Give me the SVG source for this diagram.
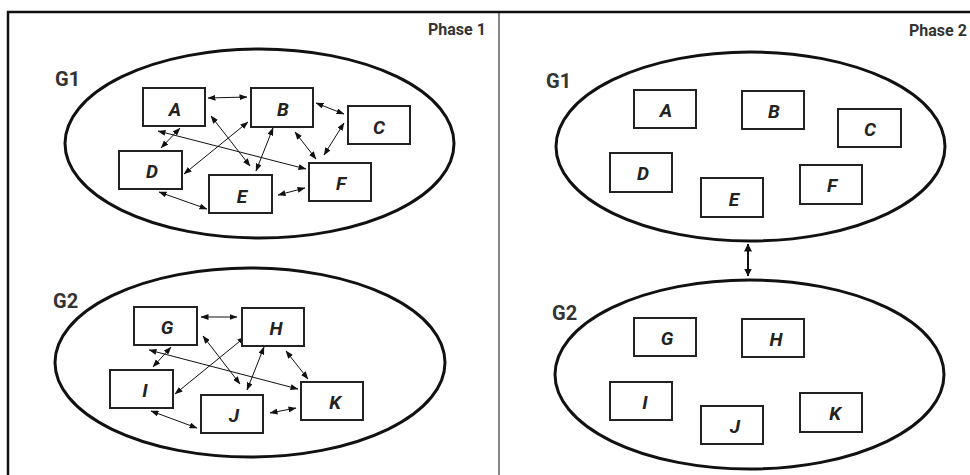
<svg xmlns="http://www.w3.org/2000/svg" width="970" height="475" viewBox="0 0 970 475">
<defs>
<marker id="ah" viewBox="0 0 8 6" refX="7.5" refY="3" markerWidth="8" markerHeight="6" markerUnits="userSpaceOnUse" orient="auto-start-reverse">
<path d="M0,0 L8,3 L0,6 z" fill="#111"/>
</marker>
<marker id="ahb" viewBox="0 0 8 8" refX="7.5" refY="4" markerWidth="8" markerHeight="8" markerUnits="userSpaceOnUse" orient="auto-start-reverse">
<path d="M0,0 L8,4 L0,8 z" fill="#111"/>
</marker>
</defs>
<style>
.frame{stroke:#111;stroke-width:2.5;fill:none}
.div{stroke:#111;stroke-width:1;fill:none}
.ell{fill:#fff;stroke:#111;stroke-width:3}
.box{fill:#fff;stroke:#222;stroke-width:2}
.lbl{font-family:Roboto,"Liberation Sans",sans-serif;font-weight:bold;font-style:italic;font-size:19px;fill:#222;text-anchor:middle}
.grp{font-family:Roboto,"Liberation Sans",sans-serif;font-weight:bold;font-size:20px;fill:#333}
.ph{font-family:Roboto,"Liberation Sans",sans-serif;font-weight:bold;font-size:16px;fill:#333}
.e{stroke:#111;stroke-width:1;fill:none;marker-start:url(#ah);marker-end:url(#ah)}
.eb{stroke:#111;stroke-width:2;fill:none;marker-start:url(#ahb);marker-end:url(#ahb)}
</style>
<rect width="970" height="475" fill="#fff"/>
<g id="frame">
<path class="frame" d="M8,475 L8,12 L970,12"/>
<path class="div" d="M499,12 L499,475"/>
<text class="ph" x="428" y="35">Phase 1</text>
<text class="ph" x="909" y="36">Phase 2</text>
</g>
<g id="p1g1">
<ellipse class="ell" cx="259.5" cy="143.5" rx="194.5" ry="94.5"/>
<text class="grp" x="55" y="86">G1</text>
</g>
<g id="p1g2">
<ellipse class="ell" cx="250" cy="362.5" rx="195" ry="94.5"/>
<text class="grp" x="53" y="308">G2</text>
</g>
<g id="p2g1">
<ellipse class="ell" cx="750.5" cy="146.5" rx="194.5" ry="94.5"/>
<text class="grp" x="546" y="88">G1</text>
</g>
<g id="p2g2">
<ellipse class="ell" cx="749.5" cy="374.5" rx="194.5" ry="94.5"/>
<text class="grp" x="552" y="320">G2</text>
</g>
<g id="connectors">
<line class="e" x1="208" y1="98" x2="247" y2="97"/>
<line class="e" x1="316" y1="103" x2="344" y2="114"/>
<line class="e" x1="211" y1="116" x2="250" y2="166"/>
<line class="e" x1="180" y1="128" x2="161" y2="148"/>
<line class="e" x1="158" y1="131" x2="306" y2="169"/>
<line class="e" x1="248" y1="122" x2="184" y2="174"/>
<line class="e" x1="273" y1="128" x2="256" y2="171"/>
<line class="e" x1="295" y1="132" x2="316" y2="159"/>
<line class="e" x1="344" y1="123" x2="324" y2="155"/>
<line class="e" x1="159" y1="192" x2="207" y2="209"/>
<line class="e" x1="278" y1="195" x2="305" y2="188"/>
<line class="e" x1="201" y1="317" x2="237" y2="317"/>
<line class="e" x1="203" y1="336" x2="240" y2="384"/>
<line class="e" x1="171" y1="347" x2="153" y2="367"/>
<line class="e" x1="149" y1="350" x2="298" y2="389"/>
<line class="e" x1="245" y1="337" x2="175" y2="394"/>
<line class="e" x1="264" y1="347" x2="247" y2="390"/>
<line class="e" x1="286" y1="351" x2="308" y2="379"/>
<line class="e" x1="151" y1="411" x2="197" y2="428"/>
<line class="e" x1="270" y1="413" x2="296" y2="408"/>
<line class="eb" x1="748" y1="244" x2="748" y2="276"/>
</g>
<g id="p1A"><rect class="box" x="143" y="88" width="62" height="38"/><text class="lbl" x="175" y="116">A</text></g>
<g id="p1B"><rect class="box" x="251" y="88" width="62" height="39"/><text class="lbl" x="283" y="116">B</text></g>
<g id="p1C"><rect class="box" x="348" y="106" width="62" height="38"/><text class="lbl" x="379" y="134">C</text></g>
<g id="p1D"><rect class="box" x="119" y="151" width="63" height="38"/><text class="lbl" x="152" y="178">D</text></g>
<g id="p1E"><rect class="box" x="209" y="175" width="63" height="38"/><text class="lbl" x="242" y="203">E</text></g>
<g id="p1F"><rect class="box" x="309" y="163" width="62" height="38"/><text class="lbl" x="341" y="190">F</text></g>
<g id="p1G"><rect class="box" x="134" y="307" width="63" height="38"/><text class="lbl" x="167" y="334">G</text></g>
<g id="p1H"><rect class="box" x="242" y="308" width="62" height="38"/><text class="lbl" x="276" y="335">H</text></g>
<g id="p1I"><rect class="box" x="110" y="370" width="63" height="38"/><text class="lbl" x="145" y="397">I</text></g>
<g id="p1J"><rect class="box" x="201" y="395" width="62" height="38"/><text class="lbl" x="234" y="422">J</text></g>
<g id="p1K"><rect class="box" x="301" y="382" width="62" height="38"/><text class="lbl" x="335" y="409">K</text></g>
<g id="p2A"><rect class="box" x="634" y="90" width="62" height="38"/><text class="lbl" x="666" y="117">A</text></g>
<g id="p2B"><rect class="box" x="742" y="91" width="62" height="38"/><text class="lbl" x="774" y="118">B</text></g>
<g id="p2C"><rect class="box" x="838" y="109" width="63" height="38"/><text class="lbl" x="870" y="136">C</text></g>
<g id="p2D"><rect class="box" x="610" y="153" width="62" height="39"/><text class="lbl" x="643" y="180">D</text></g>
<g id="p2E"><rect class="box" x="701" y="178" width="62" height="39"/><text class="lbl" x="734" y="206">E</text></g>
<g id="p2F"><rect class="box" x="800" y="165" width="62" height="39"/><text class="lbl" x="832" y="192">F</text></g>
<g id="p2G"><rect class="box" x="634" y="318" width="62" height="38"/><text class="lbl" x="667" y="345">G</text></g>
<g id="p2H"><rect class="box" x="742" y="319" width="62" height="38"/><text class="lbl" x="776" y="346">H</text></g>
<g id="p2I"><rect class="box" x="610" y="382" width="62" height="38"/><text class="lbl" x="645" y="409">I</text></g>
<g id="p2J"><rect class="box" x="701" y="406" width="62" height="38"/><text class="lbl" x="735" y="433">J</text></g>
<g id="p2K"><rect class="box" x="800" y="393" width="62" height="39"/><text class="lbl" x="835" y="420">K</text></g>
</svg>
